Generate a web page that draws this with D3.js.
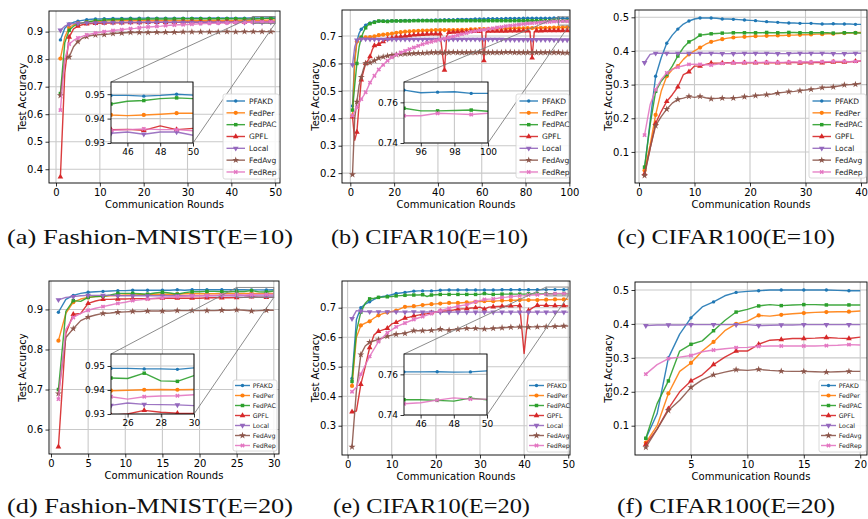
<!DOCTYPE html>
<html>
<head>
<meta charset="utf-8">
<script src="https://cdn.jsdelivr.net/npm/d3@7"></script>
<style>
  body { margin: 0; background: #fff; }
  svg { display: block; }
  text { font-family: "DejaVu Sans", sans-serif; }
</style>
</head>
<body>
<svg id="fig" width="868" height="519"></svg>
<script>
const methods = ["PFAKD", "FedPer", "FedPAC", "GPFL", "Local", "FedAvg", "FedRep"];
const colors = ["#1f77b4", "#ff7f0e", "#2ca02c", "#d62728", "#9467bd", "#8c564b", "#e377c2"];
const markerTypes = ["point", "circle", "square", "triUp", "triDown", "star", "x"];

// Test accuracy per round, one row per method (same order as `methods`)
const fmnist10 = [
  [0.870,0.912,0.928,0.934,0.938,0.941,0.943,0.945,0.946,0.946, 0.947,0.947,0.948,0.948,0.948,0.948,0.949,0.948,0.949,0.949,
   0.949,0.949,0.949,0.949,0.949,0.949,0.949,0.949,0.949,0.949, 0.949,0.950,0.949,0.949,0.949,0.950,0.949,0.950,0.949,0.950,
   0.949,0.950,0.949,0.950,0.9495,0.9495,0.9492,0.9495,0.9500,0.9496],
  [0.802,0.880,0.915,0.925,0.930,0.932,0.935,0.936,0.937,0.938, 0.938,0.939,0.939,0.939,0.940,0.940,0.940,0.940,0.940,0.941,
   0.941,0.941,0.941,0.941,0.941,0.941,0.941,0.941,0.941,0.941, 0.941,0.941,0.941,0.941,0.941,0.942,0.941,0.941,0.942,0.941,
   0.941,0.942,0.941,0.942,0.9415,0.9412,0.9415,0.9418,0.9422,0.9422],
  [0.675,0.860,0.905,0.920,0.928,0.932,0.935,0.938,0.940,0.941, 0.942,0.943,0.943,0.944,0.944,0.945,0.945,0.945,0.945,0.945,
   0.946,0.946,0.946,0.946,0.946,0.946,0.946,0.947,0.947,0.947, 0.947,0.947,0.947,0.947,0.947,0.947,0.947,0.947,0.947,0.947,
   0.947,0.947,0.946,0.946,0.9460,0.9471,0.9474,0.9482,0.9485,0.9482],
  [0.372,0.750,0.880,0.910,0.920,0.925,0.928,0.929,0.930,0.930, 0.931,0.931,0.932,0.932,0.932,0.933,0.933,0.933,0.933,0.933,
   0.934,0.934,0.934,0.934,0.934,0.934,0.934,0.934,0.935,0.935, 0.935,0.935,0.935,0.935,0.935,0.935,0.935,0.935,0.935,0.935,
   0.935,0.935,0.935,0.935,0.9355,0.9356,0.9352,0.9370,0.9355,0.9360],
  [0.905,0.920,0.927,0.929,0.930,0.931,0.932,0.932,0.932,0.933, 0.933,0.933,0.933,0.933,0.933,0.933,0.934,0.933,0.933,0.934,
   0.934,0.933,0.934,0.934,0.934,0.933,0.934,0.934,0.934,0.934, 0.934,0.934,0.933,0.934,0.934,0.934,0.934,0.934,0.934,0.934,
   0.934,0.934,0.934,0.934,0.9340,0.9345,0.9336,0.9345,0.9345,0.9332],
  [0.668,0.800,0.808,0.845,0.864,0.876,0.882,0.886,0.888,0.889, 0.889,0.891,0.893,0.894,0.895,0.896,0.897,0.897,0.897,0.897,
   0.897,0.898,0.898,0.897,0.898,0.898,0.898,0.898,0.899,0.899, 0.899,0.899,0.899,0.899,0.899,0.900,0.899,0.900,0.900,0.900,
   0.899,0.900,0.900,0.900,0.900,0.900,0.900,0.900,0.900,0.900],
  [0.615,0.800,0.855,0.868,0.877,0.883,0.888,0.892,0.895,0.898, 0.900,0.902,0.904,0.906,0.907,0.909,0.911,0.912,0.914,0.916,
   0.917,0.918,0.919,0.920,0.922,0.923,0.924,0.925,0.925,0.926, 0.927,0.928,0.929,0.929,0.930,0.930,0.931,0.931,0.932,0.932,
   0.933,0.933,0.934,0.934,0.9352,0.9355,0.9358,0.9355,0.9355,0.9350]
];

const cifar10_10 = [
  [0.445,0.620,0.680,0.710,0.725,0.733,0.740,0.745,0.748,0.750, 0.752,0.753,0.754,0.754,0.755,0.755,0.755,0.755,0.756,0.756,
   0.756,0.756,0.756,0.757,0.757,0.757,0.757,0.757,0.757,0.757, 0.758,0.758,0.758,0.758,0.758,0.758,0.758,0.759,0.759,0.759,
   0.759,0.759,0.760,0.760,0.760,0.760,0.760,0.760,0.761,0.761, 0.761,0.761,0.761,0.761,0.761,0.762,0.762,0.762,0.762,0.762,
   0.762,0.762,0.763,0.763,0.763,0.763,0.763,0.763,0.763,0.763, 0.764,0.764,0.764,0.764,0.764,0.764,0.764,0.764,0.765,0.765,
   0.765,0.765,0.765,0.765,0.765,0.765,0.765,0.765,0.765,0.765, 0.765,0.765,0.766,0.766,0.7660,0.7647,0.7650,0.7652,0.7644,0.7644],
  [0.410,0.600,0.680,0.692,0.695,0.695,0.695,0.695,0.696,0.697, 0.699,0.701,0.703,0.704,0.705,0.706,0.707,0.708,0.709,0.710,
   0.712,0.713,0.714,0.715,0.716,0.716,0.717,0.717,0.718,0.718, 0.719,0.719,0.720,0.720,0.720,0.721,0.721,0.721,0.722,0.722,
   0.722,0.722,0.722,0.722,0.722,0.722,0.722,0.722,0.722,0.722, 0.723,0.723,0.723,0.723,0.724,0.724,0.724,0.724,0.725,0.725,
   0.725,0.725,0.726,0.726,0.726,0.726,0.727,0.727,0.727,0.727, 0.727,0.727,0.728,0.728,0.728,0.728,0.728,0.728,0.728,0.728,
   0.729,0.729,0.729,0.729,0.729,0.730,0.730,0.730,0.730,0.730, 0.730,0.731,0.731,0.731,0.731,0.731,0.732,0.732,0.732,0.732],
  [0.430,0.520,0.600,0.660,0.695,0.715,0.730,0.740,0.745,0.748, 0.750,0.753,0.755,0.754,0.754,0.753,0.753,0.754,0.755,0.755,
   0.755,0.755,0.755,0.755,0.755,0.755,0.755,0.756,0.756,0.756, 0.756,0.756,0.756,0.756,0.756,0.755,0.756,0.756,0.756,0.756,
   0.756,0.756,0.756,0.756,0.756,0.756,0.756,0.756,0.756,0.756, 0.756,0.756,0.756,0.756,0.756,0.756,0.756,0.756,0.756,0.756,
   0.756,0.756,0.756,0.756,0.756,0.756,0.756,0.756,0.756,0.756, 0.756,0.756,0.756,0.756,0.756,0.756,0.756,0.756,0.756,0.756,
   0.756,0.756,0.756,0.756,0.756,0.756,0.756,0.756,0.756,0.756, 0.756,0.756,0.757,0.757,0.7571,0.7558,0.7558,0.7560,0.7562,0.7556],
  [0.405,0.320,0.350,0.450,0.540,0.570,0.600,0.610,0.625,0.650, 0.665,0.668,0.670,0.675,0.680,0.685,0.690,0.692,0.693,0.695,
   0.696,0.697,0.698,0.699,0.700,0.701,0.702,0.703,0.704,0.705, 0.705,0.706,0.706,0.707,0.707,0.707,0.708,0.708,0.708,0.708,
   0.708,0.640,0.576,0.700,0.713,0.714,0.714,0.715,0.715,0.715, 0.716,0.716,0.716,0.716,0.717,0.717,0.717,0.717,0.717,0.718,
   0.610,0.715,0.718,0.718,0.718,0.718,0.718,0.718,0.718,0.718, 0.718,0.719,0.719,0.719,0.719,0.719,0.719,0.719,0.719,0.719,
   0.719,0.718,0.620,0.716,0.719,0.719,0.719,0.720,0.720,0.720, 0.720,0.720,0.720,0.720,0.720,0.720,0.720,0.720,0.720,0.720],
  [0.595,0.660,0.685,0.688,0.689,0.689,0.689,0.689,0.688,0.688, 0.688,0.688,0.688,0.688,0.688,0.688,0.688,0.688,0.688,0.688,
   0.688,0.688,0.688,0.688,0.688,0.688,0.688,0.688,0.688,0.688, 0.688,0.688,0.688,0.688,0.688,0.688,0.688,0.688,0.688,0.688,
   0.688,0.688,0.688,0.688,0.688,0.688,0.688,0.688,0.688,0.688, 0.688,0.688,0.688,0.688,0.688,0.688,0.688,0.688,0.688,0.688,
   0.688,0.688,0.688,0.688,0.688,0.688,0.688,0.688,0.688,0.688, 0.687,0.687,0.687,0.687,0.687,0.687,0.687,0.687,0.687,0.687,
   0.687,0.687,0.687,0.687,0.687,0.687,0.687,0.687,0.687,0.687, 0.687,0.687,0.686,0.686,0.686,0.686,0.686,0.686,0.686,0.686],
  [0.195,0.400,0.460,0.520,0.550,0.580,0.600,0.602,0.603,0.606, 0.610,0.615,0.620,0.622,0.624,0.626,0.628,0.629,0.630,0.631,
   0.632,0.633,0.634,0.634,0.635,0.635,0.636,0.636,0.637,0.637, 0.638,0.638,0.638,0.639,0.639,0.639,0.640,0.640,0.640,0.640,
   0.640,0.640,0.639,0.640,0.640,0.640,0.641,0.640,0.640,0.640, 0.640,0.640,0.640,0.639,0.640,0.640,0.640,0.640,0.641,0.640,
   0.640,0.640,0.640,0.640,0.640,0.640,0.640,0.640,0.640,0.640, 0.641,0.641,0.641,0.640,0.640,0.640,0.640,0.640,0.640,0.640,
   0.640,0.640,0.640,0.640,0.640,0.640,0.640,0.640,0.640,0.640, 0.640,0.640,0.640,0.640,0.640,0.640,0.639,0.639,0.639,0.639],
  [0.410,0.425,0.440,0.455,0.470,0.482,0.495,0.512,0.530,0.543, 0.555,0.567,0.578,0.587,0.595,0.603,0.610,0.616,0.622,0.628,
   0.632,0.636,0.640,0.643,0.646,0.649,0.652,0.655,0.658,0.661, 0.664,0.667,0.670,0.673,0.675,0.677,0.679,0.681,0.683,0.685,
   0.687,0.689,0.691,0.693,0.695,0.697,0.699,0.701,0.703,0.705, 0.707,0.709,0.711,0.713,0.715,0.716,0.718,0.719,0.721,0.722,
   0.723,0.724,0.726,0.727,0.728,0.729,0.731,0.732,0.733,0.735, 0.736,0.737,0.738,0.739,0.740,0.741,0.742,0.743,0.744,0.745,
   0.746,0.746,0.747,0.748,0.748,0.749,0.750,0.751,0.751,0.752, 0.752,0.753,0.753,0.753,0.7534,0.7534,0.7546,0.7543,0.7540,0.7546]
];

const cifar100_10 = [
  [0.050,0.190,0.325,0.380,0.423,0.447,0.465,0.480,0.489,0.495, 0.498,0.498,0.498,0.497,0.495,0.495,0.494,0.493,0.492,0.491,
   0.490,0.488,0.487,0.486,0.485,0.484,0.483,0.483,0.482,0.482, 0.482,0.481,0.480,0.480,0.481,0.480,0.480,0.480,0.479,0.479],
  [0.045,0.120,0.210,0.280,0.325,0.345,0.355,0.375,0.390,0.400, 0.410,0.420,0.427,0.431,0.435,0.438,0.440,0.441,0.442,0.443,
   0.444,0.444,0.445,0.445,0.446,0.446,0.447,0.447,0.448,0.448, 0.449,0.450,0.450,0.451,0.451,0.452,0.453,0.453,0.454,0.455],
  [0.055,0.180,0.280,0.310,0.330,0.355,0.385,0.410,0.427,0.435, 0.447,0.449,0.451,0.452,0.453,0.453,0.454,0.454,0.454,0.454,
   0.454,0.454,0.455,0.454,0.454,0.454,0.455,0.455,0.454,0.454, 0.454,0.454,0.454,0.454,0.453,0.453,0.454,0.454,0.454,0.453],
  [0.035,0.110,0.185,0.220,0.250,0.270,0.293,0.330,0.338,0.355, 0.355,0.360,0.364,0.364,0.364,0.365,0.365,0.365,0.365,0.365,
   0.365,0.365,0.365,0.365,0.365,0.365,0.365,0.366,0.364,0.365, 0.365,0.366,0.365,0.366,0.367,0.367,0.367,0.368,0.369,0.370],
  [0.365,0.390,0.393,0.393,0.393,0.393,0.393,0.393,0.393,0.393, 0.393,0.393,0.393,0.393,0.392,0.392,0.392,0.393,0.393,0.393,
   0.393,0.393,0.393,0.393,0.392,0.392,0.392,0.393,0.393,0.393, 0.393,0.393,0.393,0.393,0.392,0.392,0.392,0.393,0.393,0.393],
  [0.030,0.110,0.178,0.205,0.227,0.245,0.256,0.260,0.265,0.262, 0.265,0.261,0.258,0.259,0.260,0.260,0.260,0.262,0.264,0.265,
   0.267,0.269,0.270,0.272,0.275,0.277,0.279,0.280,0.282,0.284, 0.286,0.288,0.291,0.292,0.293,0.296,0.299,0.300,0.301,0.304],
  [0.150,0.240,0.285,0.315,0.335,0.345,0.352,0.356,0.360,0.361, 0.360,0.359,0.358,0.360,0.363,0.364,0.365,0.365,0.366,0.366,
   0.366,0.366,0.367,0.366,0.366,0.366,0.367,0.367,0.367,0.368, 0.367,0.368,0.368,0.368,0.369,0.369,0.369,0.368,0.369,0.370]
];

const fmnist20 = [
  [0.893,0.925,0.935,0.940,0.943,0.944,0.945,0.946,0.947,0.947, 0.948,0.948,0.948,0.948,0.948,0.948,0.949,0.948,0.949,0.949,
   0.949,0.949,0.949,0.949,0.9490,0.9490,0.9488,0.9488,0.9486,0.9492],
  [0.822,0.890,0.918,0.926,0.930,0.932,0.933,0.934,0.935,0.936, 0.936,0.937,0.937,0.938,0.938,0.938,0.938,0.939,0.939,0.939,
   0.939,0.939,0.939,0.940,0.9397,0.9399,0.9401,0.9402,0.9401,0.9402],
  [0.700,0.895,0.922,0.920,0.930,0.932,0.933,0.936,0.940,0.940, 0.940,0.939,0.938,0.941,0.943,0.941,0.938,0.942,0.944,0.944,
   0.945,0.945,0.944,0.944,0.9450,0.9448,0.9470,0.9438,0.9436,0.9460],
  [0.557,0.840,0.888,0.890,0.915,0.921,0.925,0.925,0.926,0.926, 0.927,0.927,0.927,0.927,0.928,0.928,0.928,0.928,0.928,0.928,
   0.929,0.929,0.929,0.929,0.9295,0.9300,0.9315,0.9307,0.9303,0.9302],
  [0.924,0.930,0.932,0.934,0.935,0.935,0.935,0.935,0.934,0.934, 0.934,0.934,0.934,0.934,0.934,0.934,0.934,0.934,0.934,0.934,
   0.934,0.934,0.934,0.934,0.9336,0.9346,0.9340,0.9339,0.9338,0.9335],
  [0.690,0.830,0.852,0.872,0.881,0.886,0.890,0.891,0.893,0.894, 0.895,0.895,0.896,0.896,0.896,0.896,0.897,0.897,0.897,0.897,
   0.897,0.897,0.898,0.898,0.899,0.898,0.896,0.897,0.898,0.898],
  [0.676,0.850,0.880,0.890,0.898,0.903,0.907,0.911,0.915,0.918, 0.922,0.924,0.926,0.928,0.929,0.931,0.932,0.933,0.934,0.934,
   0.935,0.935,0.936,0.936,0.9372,0.9362,0.9372,0.9375,0.9376,0.9380]
];

const cifar10_20 = [
  [0.460,0.660,0.700,0.712,0.720,0.728,0.735,0.738,0.740,0.744, 0.748,0.750,0.752,0.754,0.756,0.757,0.757,0.757,0.757,0.758,
   0.759,0.760,0.760,0.760,0.760,0.760,0.760,0.760,0.760,0.760, 0.760,0.760,0.760,0.760,0.761,0.761,0.761,0.761,0.761,0.761,
   0.761,0.761,0.761,0.761,0.7612,0.7612,0.7613,0.7611,0.7612,0.7617],
  [0.435,0.600,0.640,0.648,0.654,0.665,0.674,0.680,0.684,0.687, 0.690,0.697,0.703,0.704,0.705,0.707,0.709,0.711,0.712,0.713,
   0.714,0.715,0.716,0.716,0.716,0.717,0.718,0.719,0.720,0.721, 0.722,0.722,0.722,0.723,0.724,0.724,0.725,0.725,0.726,0.726,
   0.726,0.726,0.726,0.727,0.727,0.727,0.728,0.728,0.728,0.729],
  [0.450,0.620,0.685,0.715,0.730,0.732,0.735,0.736,0.737,0.738, 0.740,0.741,0.742,0.743,0.743,0.743,0.744,0.738,0.743,0.744,
   0.745,0.745,0.745,0.745,0.745,0.745,0.745,0.745,0.745,0.745, 0.748,0.745,0.745,0.745,0.746,0.746,0.746,0.746,0.746,0.746,
   0.747,0.747,0.747,0.747,0.7475,0.7475,0.7472,0.7468,0.7483,0.7475],
  [0.347,0.350,0.440,0.500,0.565,0.608,0.620,0.625,0.630,0.645, 0.650,0.658,0.665,0.668,0.672,0.675,0.678,0.680,0.683,0.686,
   0.688,0.689,0.690,0.692,0.695,0.696,0.697,0.699,0.700,0.702, 0.695,0.702,0.703,0.704,0.705,0.705,0.706,0.707,0.707,0.545,
   0.690,0.700,0.708,0.708,0.708,0.707,0.707,0.707,0.707,0.706],
  [0.663,0.690,0.688,0.687,0.686,0.686,0.686,0.686,0.686,0.686, 0.686,0.686,0.685,0.686,0.686,0.685,0.685,0.686,0.685,0.685,
   0.685,0.685,0.685,0.685,0.685,0.685,0.685,0.685,0.685,0.685, 0.685,0.685,0.685,0.685,0.685,0.685,0.685,0.685,0.685,0.685,
   0.685,0.685,0.685,0.685,0.685,0.685,0.685,0.685,0.685,0.685],
  [0.228,0.420,0.541,0.570,0.583,0.588,0.592,0.598,0.603,0.607, 0.610,0.612,0.613,0.618,0.622,0.622,0.622,0.623,0.623,0.625,
   0.627,0.625,0.624,0.626,0.627,0.629,0.630,0.630,0.630,0.629, 0.628,0.629,0.630,0.631,0.632,0.633,0.634,0.634,0.635,0.635,
   0.634,0.635,0.635,0.636,0.636,0.636,0.637,0.637,0.638,0.638],
  [0.415,0.430,0.475,0.505,0.535,0.560,0.585,0.600,0.615,0.625, 0.635,0.642,0.648,0.654,0.660,0.665,0.670,0.675,0.680,0.685,
   0.690,0.694,0.698,0.702,0.705,0.708,0.710,0.715,0.720,0.724, 0.728,0.729,0.730,0.732,0.735,0.736,0.738,0.739,0.740,0.741,
   0.743,0.743,0.744,0.745,0.7455,0.7460,0.7473,0.7484,0.7478,0.7478]
];

const cifar100_20 = [
  [0.062,0.135,0.300,0.370,0.418,0.450,0.465,0.483,0.493,0.496, 0.498,0.500,0.500,0.500,0.500,0.500,0.500,0.499,0.498,0.498],
  [0.050,0.100,0.195,0.260,0.285,0.320,0.347,0.380,0.400,0.408, 0.425,0.423,0.427,0.430,0.432,0.434,0.435,0.436,0.436,0.438],
  [0.063,0.165,0.232,0.320,0.340,0.350,0.380,0.410,0.435,0.443, 0.453,0.457,0.454,0.456,0.457,0.457,0.456,0.456,0.456,0.456],
  [0.045,0.090,0.150,0.200,0.232,0.250,0.280,0.302,0.320,0.320, 0.340,0.352,0.354,0.357,0.357,0.358,0.360,0.358,0.357,0.361],
  [0.395,0.397,0.397,0.397,0.398,0.398,0.398,0.398,0.398,0.398, 0.395,0.396,0.397,0.397,0.398,0.398,0.398,0.398,0.398,0.398],
  [0.036,0.090,0.145,0.175,0.213,0.235,0.250,0.258,0.265,0.263, 0.266,0.263,0.261,0.260,0.260,0.259,0.258,0.259,0.260,0.260],
  [0.252,0.280,0.298,0.302,0.307,0.318,0.323,0.327,0.330,0.331, 0.334,0.335,0.335,0.335,0.335,0.335,0.336,0.337,0.339,0.338]
];

const rowLegend1 = { fs: 7.5, first: 7, step: 11.83, l0: 3.5, l1: 22, tx: 26 };
const rowLegend2 = { fs: 6.3, first: 5.5, step: 10, l0: 2, l1: 17, tx: 19.7 };

const panels = [
  { data: fmnist10, box: [49, 280, 11, 183], xDomain: [-1.6, 51.1], yDomain: [0.35, 0.975],
    xTicks: [0, 10, 20, 30, 40, 50], yTicks: [0.4, 0.5, 0.6, 0.7, 0.8, 0.9], ylabelX: 22, xlabelY: 208,
    caption: "(a) Fashion-MNIST(E=10)", cap: [7, 244, 286],
    inset: { box: [111, 193, 82, 143], xDomain: [45, 50], yDomain: [0.93, 0.955], xTicks: [46, 48, 50], yTicks: [0.93, 0.94, 0.95] },
    legend: Object.assign({ box: [223, 279, 94, 179] }, rowLegend1) },
  { data: cifar10_10, box: [342, 570, 10, 183], xDomain: [-3.8, 100.3], yDomain: [0.164, 0.795],
    xTicks: [0, 20, 40, 60, 80, 100], yTicks: [0.2, 0.3, 0.4, 0.5, 0.6, 0.7], ylabelX: 315, xlabelY: 208,
    caption: "(b) CIFAR10(E=10)", cap: [331, 244, 197],
    inset: { box: [404, 488, 82, 143], xDomain: [95, 100], yDomain: [0.74, 0.77], xTicks: [96, 98, 100], yTicks: [0.74, 0.76] },
    legend: Object.assign({ box: [516, 569, 94, 178] }, rowLegend1) },
  { data: cifar100_10, box: [635, 867, 10, 183], xDomain: [-0.72, 41.08], yDomain: [0.0077, 0.5217],
    xTicks: [0, 10, 20, 30, 40], yTicks: [0.1, 0.2, 0.3, 0.4, 0.5], ylabelX: 608, xlabelY: 208,
    caption: "(c) CIFAR100(E=10)", cap: [617, 244, 218], inset: null,
    legend: Object.assign({ box: [809, 866, 94, 178] }, rowLegend1) },
  { data: fmnist20, box: [49, 279, 281, 454], xDomain: [-0.27, 30.7], yDomain: [0.539, 0.971],
    xTicks: [0, 5, 10, 15, 20, 25, 30], yTicks: [0.6, 0.7, 0.8, 0.9], ylabelX: 22, xlabelY: 479,
    caption: "(d) Fashion-MNIST(E=20)", cap: [7, 513, 286],
    inset: { box: [111, 194, 354, 414], xDomain: [25, 30], yDomain: [0.93, 0.955], xTicks: [26, 28, 30], yTicks: [0.93, 0.94, 0.95] },
    legend: Object.assign({ box: [233, 277, 380, 451] }, rowLegend2) },
  { data: cifar10_20, box: [342, 570, 281, 455], xDomain: [-1.27, 50.4], yDomain: [0.2007, 0.7905],
    xTicks: [0, 10, 20, 30, 40, 50], yTicks: [0.3, 0.4, 0.5, 0.6, 0.7], ylabelX: 315, xlabelY: 480,
    caption: "(e) CIFAR10(E=20)", cap: [333, 513, 197],
    inset: { box: [404, 487, 354, 415], xDomain: [45, 50], yDomain: [0.74, 0.77], xTicks: [46, 48, 50], yTicks: [0.74, 0.76] },
    legend: Object.assign({ box: [527, 569, 380, 452] }, rowLegend2) },
  { data: cifar100_20, box: [635, 867, 282, 455], xDomain: [0.04, 20.6], yDomain: [0.0136, 0.5236],
    xTicks: [5, 10, 15, 20], yTicks: [0.1, 0.2, 0.3, 0.4, 0.5], ylabelX: 608, xlabelY: 480,
    caption: "(f) CIFAR100(E=20)", cap: [617, 513, 218], inset: null,
    legend: Object.assign({ box: [819, 866, 380, 452] }, rowLegend2) }
];

const symbolOf = {
  point:   [d3.symbolCircle, 9, 0],
  circle:  [d3.symbolCircle, 14, 0],
  square:  [d3.symbolSquare, 12, 0],
  triUp:   [d3.symbolTriangle, 14, 0],
  triDown: [d3.symbolTriangle, 14, 180],
  star:    [d3.symbolStar, 15, 0],
  x:       [d3.symbolCross, 12, 45]
};

const svg = d3.select("#fig");
const defs = svg.append("defs");
let clipCount = 0;

function addClip(x0, x1, y0, y1) {
  const id = "clip" + (clipCount++);
  defs.append("clipPath").attr("id", id)
    .append("rect").attr("x", x0).attr("y", y0).attr("width", x1 - x0).attr("height", y1 - y0);
  return id;
}

function drawGrid(g, x, y, xTicks, yTicks, x0, x1, y0, y1) {
  g.selectAll(null).data(xTicks).join("line")
    .attr("x1", d => x(d)).attr("x2", d => x(d)).attr("y1", y0).attr("y2", y1)
    .attr("stroke", "#c9c9c9").attr("stroke-width", 1.1);
  g.selectAll(null).data(yTicks).join("line")
    .attr("x1", x0).attr("x2", x1).attr("y1", d => y(d)).attr("y2", d => y(d))
    .attr("stroke", "#c9c9c9").attr("stroke-width", 1.1);
}

function drawSeries(g, x, y, data, clipId) {
  const line = d3.line().x(d => x(d[0])).y(d => y(d[1]));
  const layer = g.append("g").attr("clip-path", `url(#${clipId})`);
  data.forEach((vals, i) => {
    const pts = vals.map((v, k) => [k + 1, v]);
    layer.append("path").datum(pts)
      .attr("d", line)
      .attr("fill", "none")
      .attr("stroke", colors[i])
      .attr("stroke-width", 1.4)
      .attr("stroke-opacity", 0.9)
      .attr("stroke-linejoin", "round");
    const [type, size, rot] = symbolOf[markerTypes[i]];
    layer.append("g").selectAll("path")
      .data(pts.filter((d, k) => k % 2 === 0))
      .join("path")
      .attr("transform", d => `translate(${x(d[0])},${y(d[1])}) rotate(${rot})`)
      .attr("d", d3.symbol(type, size))
      .attr("fill", colors[i]);
  });
}

function drawAxes(g, x, y, p, fs, xFmt, yFmt) {
  const [x0, x1, y0, y1] = p.box;
  const style = s => {
    s.select(".domain").remove();
    s.attr("font-family", null).attr("font-size", null);
    s.selectAll("text").attr("font-size", fs).attr("fill", "#000");
    s.selectAll("line").attr("stroke", "#000").attr("stroke-width", 0.8);
  };
  g.append("g").attr("transform", `translate(0,${y1})`)
    .call(d3.axisBottom(x).tickValues(p.xTicks).tickSize(3.5).tickPadding(2.5).tickFormat(xFmt))
    .call(style);
  g.append("g").attr("transform", `translate(${x0},0)`)
    .call(d3.axisLeft(y).tickValues(p.yTicks).tickSize(3.5).tickPadding(2.5).tickFormat(yFmt))
    .call(style);
  g.append("rect").attr("x", x0).attr("y", y0).attr("width", x1 - x0).attr("height", y1 - y0)
    .attr("fill", "none").attr("stroke", "#000").attr("stroke-width", 0.9);
}

function drawLegend(g, lg) {
  const [x0, x1, y0, y1] = lg.box;
  g.append("rect").attr("x", x0).attr("y", y0).attr("width", x1 - x0).attr("height", y1 - y0)
    .attr("rx", 2).attr("fill", "#fff").attr("fill-opacity", 0.85)
    .attr("stroke", "#d0d0d0").attr("stroke-width", 0.8);
  methods.forEach((name, i) => {
    const cy = y0 + lg.first + i * lg.step;
    g.append("line").attr("x1", x0 + lg.l0).attr("x2", x0 + lg.l1).attr("y1", cy).attr("y2", cy)
      .attr("stroke", colors[i]).attr("stroke-width", 1.4).attr("stroke-opacity", 0.9);
    const [type, size, rot] = symbolOf[markerTypes[i]];
    g.append("path")
      .attr("transform", `translate(${x0 + (lg.l0 + lg.l1) / 2},${cy}) rotate(${rot})`)
      .attr("d", d3.symbol(type, size)).attr("fill", colors[i]);
    g.append("text").attr("x", x0 + lg.tx).attr("y", cy).attr("dy", "0.36em")
      .attr("font-size", lg.fs).attr("fill", "#222").text(name);
  });
}

function drawPanel(p) {
  const [x0, x1, y0, y1] = p.box;
  const g = svg.append("g");
  const x = d3.scaleLinear().domain(p.xDomain).range([x0, x1]);
  const y = d3.scaleLinear().domain(p.yDomain).range([y1, y0]);

  drawGrid(g, x, y, p.xTicks, p.yTicks, x0, x1, y0, y1);
  drawSeries(g, x, y, p.data, addClip(x0, x1, y0, y1));
  drawAxes(g, x, y, p, 10, d3.format("d"), d3.format(".1f"));

  g.append("text")
    .attr("transform", `translate(${p.ylabelX},${(y0 + y1) / 2}) rotate(-90)`)
    .attr("text-anchor", "middle").attr("dy", "0.35em")
    .attr("font-size", 10).attr("fill", "#000").text("Test Accuracy");
  g.append("text")
    .attr("x", (x0 + x1) / 2).attr("y", p.xlabelY)
    .attr("text-anchor", "middle").attr("font-size", 10).attr("fill", "#000")
    .text("Communication Rounds");

  if (p.inset) {
    const ins = p.inset;
    const [ix0, ix1, iy0, iy1] = ins.box;
    // zoomed region and its connectors, drawn in the parent axes
    const bx0 = x(ins.xDomain[0]), bx1 = x(ins.xDomain[1]);
    const by0 = y(ins.yDomain[1]), by1 = y(ins.yDomain[0]);
    g.append("rect").attr("x", bx0).attr("y", by0).attr("width", bx1 - bx0).attr("height", by1 - by0)
      .attr("fill", "none").attr("stroke", "#7f7f7f").attr("stroke-width", 0.9);
    g.append("line").attr("x1", ix0).attr("y1", iy0).attr("x2", bx0).attr("y2", by0)
      .attr("stroke", "#7f7f7f").attr("stroke-width", 0.9);
    g.append("line").attr("x1", ix1).attr("y1", iy1).attr("x2", bx1).attr("y2", by1)
      .attr("stroke", "#7f7f7f").attr("stroke-width", 0.9);
  }

  drawLegend(g, p.legend);

  if (p.inset) {
    const ins = p.inset;
    const [ix0, ix1, iy0, iy1] = ins.box;
    const gi = svg.append("g");
    const xi = d3.scaleLinear().domain(ins.xDomain).range([ix0, ix1]);
    const yi = d3.scaleLinear().domain(ins.yDomain).range([iy1, iy0]);
    gi.append("rect").attr("x", ix0).attr("y", iy0).attr("width", ix1 - ix0).attr("height", iy1 - iy0)
      .attr("fill", "#fff");
    drawGrid(gi, xi, yi, ins.xTicks, ins.yTicks, ix0, ix1, iy0, iy1);
    drawSeries(gi, xi, yi, p.data, addClip(ix0, ix1, iy0, iy1));
    drawAxes(gi, xi, yi, ins, 9, d3.format("d"), d3.format(".2f"));
  }

  svg.append("text")
    .attr("x", p.cap[0]).attr("y", p.cap[1])
    .attr("textLength", p.cap[2]).attr("lengthAdjust", "spacingAndGlyphs")
    .style("font-family", "'Liberation Serif', serif")
    .attr("font-size", 21).attr("fill", "#111")
    .text(p.caption);
}

panels.forEach(drawPanel);
</script>
</body>
</html>
